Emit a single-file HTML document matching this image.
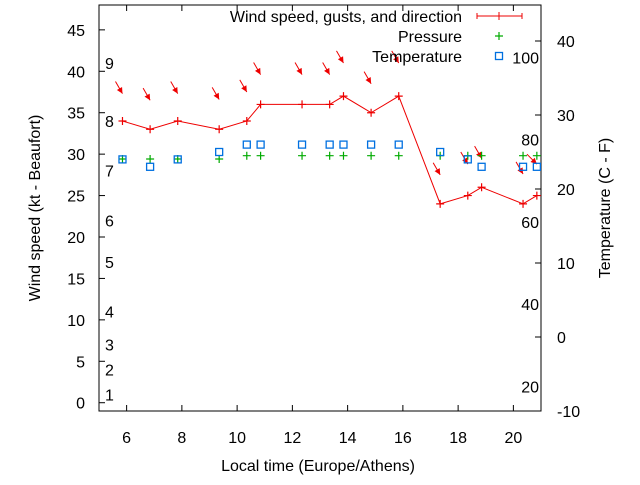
<!DOCTYPE html>
<html><head><meta charset="utf-8"><style>
body{margin:0;background:#fff}
svg text{font-family:"Liberation Sans",sans-serif;font-size:16px;fill:#000}
</style></head><body>
<svg id="chart" width="640" height="480" viewBox="0 0 640 480" xmlns="http://www.w3.org/2000/svg">
<g id="axes"></g><g id="marks"></g>
<text transform="translate(40,208) rotate(-90)" text-anchor="middle">Wind speed (kt - Beaufort)</text>
<text transform="translate(610,208) rotate(-90)" text-anchor="middle">Temperature (C - F)</text>
<text x="318" y="471" text-anchor="middle">Local time (Europe/Athens)</text>
<g>
<text x="462" y="22" text-anchor="end">Wind speed, gusts, and direction</text>
<line x1="477" y1="16" x2="522" y2="16" stroke="#e00" stroke-width="1"/>
<line x1="477" y1="13" x2="477" y2="19" stroke="#e00"/><line x1="522" y1="13" x2="522" y2="19" stroke="#e00"/><line x1="499" y1="12" x2="499" y2="20" stroke="#e00"/>
<text x="462" y="42" text-anchor="end">Pressure</text>
<path d="M495,36h8M499,32v8" stroke="#0a0" stroke-width="1.2"/>
<text x="462" y="62" text-anchor="end">Temperature</text>
<rect x="495.5" y="52.5" width="7" height="7" fill="none" stroke="#0070e0" stroke-width="1.3"/>
</g>
</svg>
<script>
const times=[5.85,6.85,7.85,9.35,10.35,10.85,12.35,13.35,13.85,14.85,15.85,17.35,18.35,18.85,20.35,20.85];
const wind=[34,33,34,33,34,36,36,36,37,35,37,24,25,26,24,25];
const gusts=[37.3,36.5,37.3,36.6,37.5,39.6,39.6,39.6,41,38.5,41,27.5,28.8,29.5,27.6,28.8];
const dirs=[330,330,330,330,330,330,330,330,330,330,330,330,330,330,330,315];
const pressure=[1012,1012,1012,1012,1013,1013,1013,1013,1013,1013,1013,1013,1013,1013,1013,1013];
const temps=[24,23,24,25,26,26,26,26,26,26,26,25,24,23,23,23];
const xTicks=[6,8,10,12,14,16,18,20];
const yTicks=[0,5,10,15,20,25,30,35,40,45];
const y2Ticks=[-10,0,10,20,30,40];
const beaufort=[1,2,3,4,5,6,7,8,9];
const beaufortKt=[1,4,7,11,17,22,28,34,41];
const fahr=[20,40,60,80,100];
const L=99,R=541,T=5,B=411;
const xs=t=>L+(t-5)/16*(R-L);
const ys=k=>B-(k+1)/49*(B-T);
const yt=c=>B-(c+10)*7.4;
const yp=p=>159-(p-1012)*3.3;
const NS='http://www.w3.org/2000/svg';
const ax=document.getElementById('axes'),mk=document.getElementById('marks');
function el(tag,at,par,txt){const e=document.createElementNS(NS,tag);for(const k in at)e.setAttribute(k,at[k]);if(txt!==undefined)e.textContent=txt;par.appendChild(e);return e;}
const fr=el('rect',{x:L,y:T,width:R-L,height:B-T,fill:'none',stroke:'#000','stroke-width':1},ax);


xTicks.forEach(t=>{const x=xs(t);
el('path',{d:`M${x},${B}v-6M${x},${T}v6`,stroke:'#000'},ax);
const tx=el('text',{x:x,y:B+32,'text-anchor':'middle'},ax,t);

});
yTicks.forEach(v=>{const y=ys(v);
el('path',{d:`M${L},${y}h6`,stroke:'#000'},ax);
const tx=el('text',{x:85,y:y+6,'text-anchor':'end'},ax,v);

});
y2Ticks.forEach(v=>{const y=yt(v);
el('path',{d:`M${R},${y}h-6`,stroke:'#000'},ax);
const tx=el('text',{x:557,y:y+6},ax,v);

});
beaufort.forEach((b,i)=>{
const tx=el('text',{x:105,y:ys(beaufortKt[i])+6},ax,b);

});
fahr.forEach(f=>{
const tx=el('text',{x:539,y:yt((f-32)*5/9)+6,'text-anchor':'end'},ax,f);

});
const pl=el('polyline',{points:times.map((t,i)=>xs(t)+','+ys(wind[i])).join(' '),fill:'none',stroke:'#e00','stroke-width':1},mk);


times.forEach((t,i)=>{const x=xs(t),y=ys(wind[i]);
const p=el('path',{d:`M${x-4},${y}h8M${x},${y-4}v8`,stroke:'#e00','stroke-width':1.2},mk);


const a=dirs[i]*Math.PI/180,ux=-Math.sin(a),uy=Math.cos(a);
const hx=xs(t),hy=ys(gusts[i]);
const g=el('g',{},mk);


el('line',{x1:hx-ux*14,y1:hy-uy*14,x2:hx,y2:hy,stroke:'#e00','stroke-width':1},g);
const px=-uy,py=ux;
el('polygon',{points:`${hx},${hy} ${hx-ux*6+px*3},${hy-uy*6+py*3} ${hx-ux*6-px*3},${hy-uy*6-py*3}`,fill:'#e00'},g);
const q=el('path',{d:`M${x-4},${yp(pressure[i])}h8M${x},${yp(pressure[i])-4}v8`,stroke:'#0a0','stroke-width':1.2},mk);


const s=el('rect',{x:x-3.5,y:yt(temps[i])-3.5,width:7,height:7,fill:'none',stroke:'#0070e0','stroke-width':1.3},mk);

});
</script>
</body></html>
